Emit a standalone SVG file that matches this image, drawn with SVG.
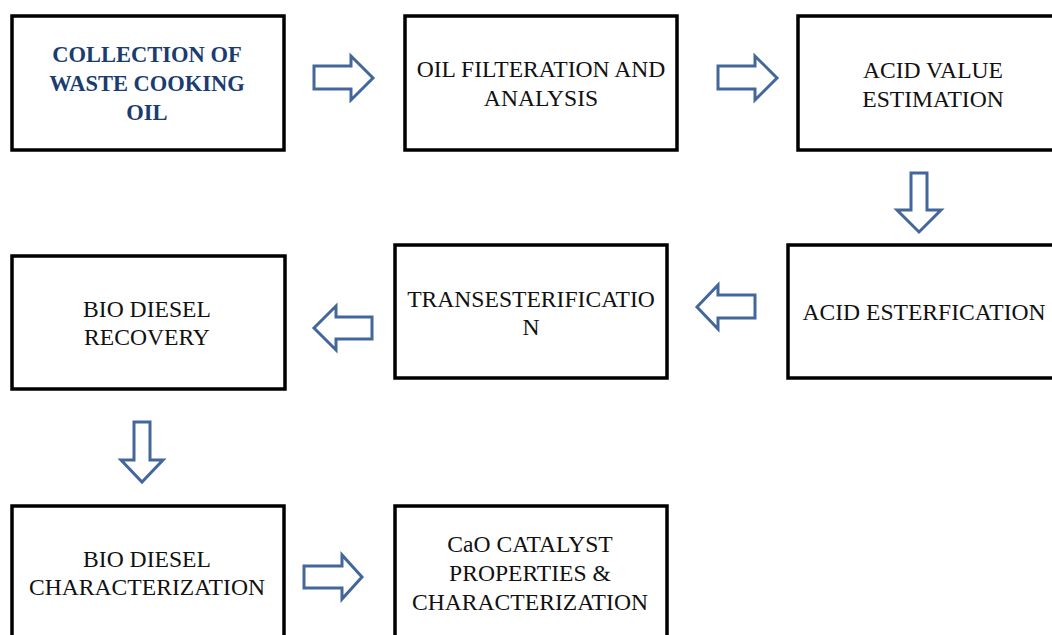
<svg xmlns="http://www.w3.org/2000/svg" width="1052" height="635" viewBox="0 0 1052 635">
<style>
.box{fill:#fff;stroke:#000;stroke-width:3.5}
.t{font-family:'Liberation Serif','Times New Roman',serif;font-size:23.6px;fill:#111;text-anchor:middle}
.tb{font-family:'Liberation Serif','Times New Roman',serif;font-size:22.5px;font-weight:bold;fill:#1A3C6E;text-anchor:middle}
.ar{fill:#fff;stroke:#43679A;stroke-width:3;stroke-linejoin:miter}
</style>
<rect width="1052" height="635" fill="#fff"/>
<g id="n1"><rect class="box" x="12" y="16" width="272" height="134"/>
<text class="tb" x="147" y="62">COLLECTION OF</text>
<text class="tb" x="147" y="91">WASTE COOKING</text>
<text class="tb" x="147" y="120">OIL</text></g>
<g id="n2"><rect class="box" x="405" y="16" width="272" height="134"/>
<text class="t" x="541" y="77">OIL FILTERATION AND</text>
<text class="t" x="541" y="106">ANALYSIS</text></g>
<g id="n3"><rect class="box" x="798" y="16" width="272" height="134"/>
<text class="t" x="933" y="78">ACID VALUE</text>
<text class="t" x="933" y="107">ESTIMATION</text></g>
<g id="n4"><rect class="box" x="788" y="245" width="272" height="133"/>
<text class="t" x="924" y="320">ACID ESTERFICATION</text></g>
<g id="n5"><rect class="box" x="395" y="245" width="272" height="133"/>
<text class="t" x="531" y="307">TRANSESTERIFICATIO</text>
<text class="t" x="531" y="335">N</text></g>
<g id="n6"><rect class="box" x="12" y="256" width="273" height="133"/>
<text class="t" x="147" y="317">BIO DIESEL</text>
<text class="t" x="147" y="345">RECOVERY</text></g>
<g id="n7"><rect class="box" x="12" y="506" width="272" height="140"/>
<text class="t" x="147" y="567">BIO DIESEL</text>
<text class="t" x="147" y="595">CHARACTERIZATION</text></g>
<g id="n8"><rect class="box" x="395" y="506" width="272" height="140"/>
<text class="t" x="530" y="552">CaO CATALYST</text>
<text class="t" x="530" y="581">PROPERTIES &amp;</text>
<text class="t" x="530" y="610">CHARACTERIZATION</text></g>
<g id="connectors">
<path class="ar" d="M314,66 H351 V56 L373,78 L351,100 V89 H314 Z"/>
<path class="ar" d="M718,66 H755 V56 L777,78 L755,100 V89 H718 Z"/>
<path class="ar" d="M911,173 H927 V210 H941 L919,232 L897,210 H911 Z"/>
<path class="ar" d="M755,295 H718 V285 L697,307 L718,329 V318 H755 Z"/>
<path class="ar" d="M372,317 H336 V306 L314,328 L336,350 V339 H372 Z"/>
<path class="ar" d="M134,422 H150 V460 H163 L142,482 L121,460 H134 Z"/>
<path class="ar" d="M304,566 H342 V555 L362,577 L342,599 V588 H304 Z"/>
</g>
</svg>
